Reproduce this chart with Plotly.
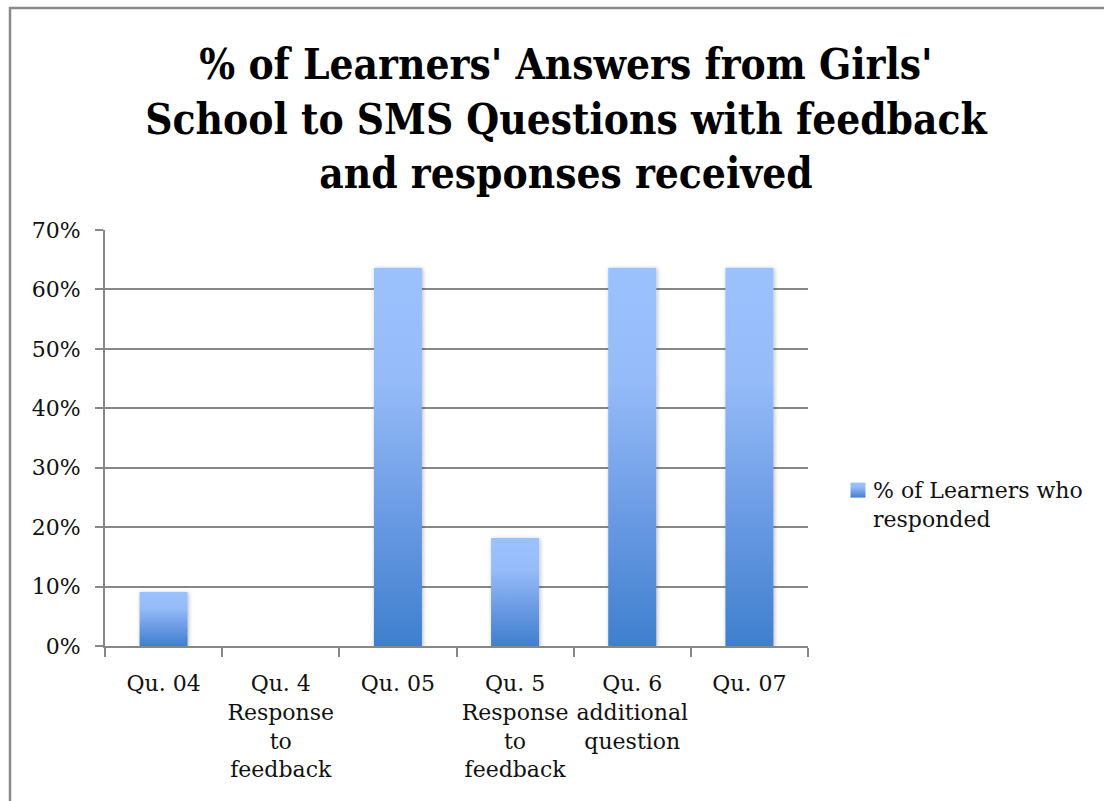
import plotly.graph_objects as go

# Share of learners responding to each SMS question
categories = [
    "Qu. 04",
    "Qu. 4<br>Response<br>to<br>feedback",
    "Qu. 05",
    "Qu. 5<br>Response<br>to<br>feedback",
    "Qu. 6<br>additional<br>question",
    "Qu. 07",
]
responded = [0.0909, 0.0, 0.6364, 0.1818, 0.6364, 0.6364]
series_name = "% of Learners who<br>responded"
y_ticks = [0, 0.1, 0.2, 0.3, 0.4, 0.5, 0.6, 0.7]

W, H = 1104, 801
L, R, T, B = 105, 808, 230, 646
plot_w, plot_h = R - L, B - T

serif = "DejaVu Serif"
grid = "#878787"

fig = go.Figure(
    go.Bar(
        x=categories,
        y=responded,
        name=series_name,
        marker=dict(color="#6d9ce6", line=dict(width=0)),
        showlegend=True,
        hoverinfo="skip",
    )
)

# outer chart frame (left and top edges visible)
fig.add_shape(
    type="rect",
    xref="paper", yref="paper",
    x0=(10 - L) / plot_w, x1=(1130 - L) / plot_w,
    y0=(B - 830) / plot_h, y1=(B - 8) / plot_h,
    line=dict(color="#8a8a8a", width=2.5),
    fillcolor="rgba(0,0,0,0)",
    layer="below",
)

fig.update_layout(
    width=W, height=H,
    margin=dict(l=L, r=W - R, t=T, b=H - B, pad=0, autoexpand=False),
    paper_bgcolor="white",
    plot_bgcolor="white",
    bargap=0.59,
    title=dict(
        text="% of Learners' Answers from Girls'<br>School to SMS Questions with feedback<br>and responses received",
        font=dict(family="DejaVu Serif Condensed, DejaVu Serif", size=42, color="#000", weight="bold"),
        x=566 / W, xanchor="center",
        y=1 - 79 / H, yanchor="top",
        yref="container",
    ),
    legend=dict(
        x=(833 - L) / plot_w, xanchor="left",
        y=(B - 469) / plot_h, yanchor="top",
        font=dict(family=serif, size=22, color="#111"),
        bgcolor="rgba(0,0,0,0)",
        itemwidth=30,
    ),
    xaxis=dict(
        type="category",
        showline=True, linecolor=grid, linewidth=2,
        ticks="outside", tickson="boundaries", ticklen=9, tickcolor=grid, tickwidth=2,
        tickangle=0, automargin=False,
        ticklabelstandoff=17,
        tickfont=dict(family=serif, size=22, color="#111"),
        showgrid=False,
        fixedrange=True,
    ),
    yaxis=dict(
        range=[0, 0.7],
        tickvals=y_ticks,
        tickformat=".0%",
        showline=True, linecolor=grid, linewidth=2,
        ticks="outside", ticklen=8, tickcolor=grid, tickwidth=2,
        ticklabelstandoff=10, automargin=False,
        tickfont=dict(family=serif, size=22, color="#111"),
        showgrid=True, gridcolor=grid, gridwidth=2,
        zeroline=False,
        fixedrange=True,
    ),
)

# vertical light-to-dark fill and soft shadow for the bars and legend swatch
post = """
var gd = document.getElementById('{plot_id}');
var ns = 'http://www.w3.org/2000/svg';
var svg = gd.querySelector('svg.main-svg');
var defs = svg.querySelector('defs');
if (!defs) { defs = document.createElementNS(ns, 'defs'); svg.insertBefore(defs, svg.firstChild); }
var lg = document.createElementNS(ns, 'linearGradient');
lg.setAttribute('id', 'barfade');
lg.setAttribute('x1', '0'); lg.setAttribute('y1', '0');
lg.setAttribute('x2', '0'); lg.setAttribute('y2', '1');
[['0', '#9cc2fe'], ['0.3', '#95bbf8'], ['0.65', '#6b9be4'], ['1', '#3f7fcd']].forEach(function(s) {
  var st = document.createElementNS(ns, 'stop');
  st.setAttribute('offset', s[0]); st.setAttribute('stop-color', s[1]);
  lg.appendChild(st);
});
defs.appendChild(lg);
var f = document.createElementNS(ns, 'filter');
f.setAttribute('id', 'barshadow');
f.setAttribute('x', '-40%'); f.setAttribute('y', '-10%');
f.setAttribute('width', '180%'); f.setAttribute('height', '120%');
var ds = document.createElementNS(ns, 'feDropShadow');
ds.setAttribute('dx', '1'); ds.setAttribute('dy', '1');
ds.setAttribute('stdDeviation', '2');
ds.setAttribute('flood-color', '#000'); ds.setAttribute('flood-opacity', '0.28');
f.appendChild(ds);
defs.appendChild(f);
gd.querySelectorAll('.barlayer .point path').forEach(function(p) {
  p.style.fill = 'url(#barfade)';
  p.style.filter = 'url(#barshadow)';
});
gd.querySelectorAll('.legend .legendpoints path').forEach(function(p) {
  p.style.fill = 'url(#barfade)';
  p.setAttribute('d', 'M12.5,-6.5H-2.5V-21.5H12.5Z');
});
"""

fig.write_html("out.html", post_script=post, config={"displayModeBar": False})
